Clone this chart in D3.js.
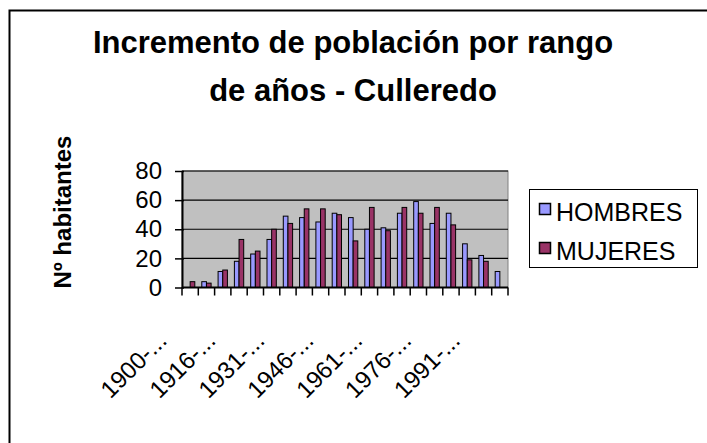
<!DOCTYPE html>
<html>
<head>
<meta charset="utf-8">
<script src="https://cdn.jsdelivr.net/npm/d3@7"></script>
<style>
  body { margin: 0; background: #fff; }
  svg text { font-family: "Liberation Sans", Arial, sans-serif; fill: #000; }
</style>
</head>
<body>
<svg width="707" height="443"></svg>
<script>
// Data
var categories = ["1900-1905", "1906-1910", "1911-1915", "1916-1920", "1921-1925",
    "1926-1930", "1931-1935", "1936-1940", "1941-1945", "1946-1950",
    "1951-1955", "1956-1960", "1961-1965", "1966-1970", "1971-1975",
    "1976-1980", "1981-1985", "1986-1990", "1991-1995", "1996-2000"];
var seriesNames = ["HOMBRES", "MUJERES"];
var hombres = [0, 4, 11, 18, 23, 33, 49, 48, 45, 51, 48, 40, 41, 51, 59, 44, 51, 30, 22, 11];
var mujeres = [4, 3, 12, 33, 25, 40, 44, 54, 54, 50, 32, 55, 39, 55, 51, 55, 43, 19, 18, 0];
var yTicks = [0, 20, 40, 60, 80];
var colors = ["#9999FF", "#993366"];

var svg = d3.select("svg");

// chart frame (cut off at right / bottom like the original)
svg.append("rect")
    .attr("x", 9.5).attr("y", 10.5)
    .attr("width", 760).attr("height", 500)
    .attr("fill", "#fff")
    .attr("stroke", "#000")
    .attr("stroke-width", 2);

// Title
var title = svg.append("text")
    .attr("text-anchor", "middle")
    .style("font-size", "31px")
    .style("font-weight", "bold");
title.append("tspan").attr("x", 353).attr("y", 53).text("Incremento de población por rango");
title.append("tspan").attr("x", 353).attr("y", 101).text("de años - Culleredo");

// Scales
var plotLeft = 182, plotRight = 508, plotTop = 171, plotBottom = 287.5;
var x = d3.scaleBand().domain(categories).range([plotLeft, plotRight]);
var x1 = d3.scaleBand().domain(seriesNames).range([0, x.bandwidth()])
    .paddingInner(0).paddingOuter(0.75);
var y = d3.scaleLinear().domain([0, 80]).range([plotBottom, plotTop]);

// Plot area
svg.append("rect")
    .attr("x", plotLeft).attr("y", plotTop)
    .attr("width", plotRight - plotLeft).attr("height", plotBottom - plotTop)
    .attr("fill", "#C0C0C0")
    .attr("stroke", "#808080");

// gridlines
svg.append("g")
    .selectAll("line")
    .data(yTicks.slice(1))
    .enter().append("line")
        .attr("x1", plotLeft).attr("x2", plotRight)
        .attr("y1", function(d) { return y(d); })
        .attr("y2", function(d) { return y(d); })
        .attr("stroke", "#000")
        .attr("stroke-width", 1.2);

// Bars
var rows = categories.map(function(c, i) {
    return { cat: c, values: [hombres[i], mujeres[i]] };
});
svg.append("g")
    .selectAll("g")
    .data(rows)
    .enter().append("g")
        .attr("transform", function(d) { return "translate(" + x(d.cat) + ",0)"; })
    .selectAll("rect")
    .data(function(d) {
        return d.values.map(function(v, k) { return { s: seriesNames[k], v: v, k: k }; })
            .filter(function(e) { return e.v > 0; });
    })
    .enter().append("rect")
        .attr("x", function(d) { return x1(d.s); })
        .attr("y", function(d) { return y(d.v); })
        .attr("width", x1.bandwidth())
        .attr("height", function(d) { return y(0) - y(d.v); })
        .attr("fill", function(d) { return colors[d.k]; })
        .attr("stroke", "#000")
        .attr("stroke-width", 1);

// Y axis
var yAxis = svg.append("g")
    .attr("transform", "translate(" + plotLeft + ",0)")
    .call(d3.axisLeft(y).tickValues(yTicks).tickSizeInner(7).tickSizeOuter(0).tickPadding(13));
yAxis.select(".domain").attr("stroke-width", 2);
yAxis.selectAll(".tick line").attr("x2", -7).attr("x1", 2).attr("stroke-width", 1.5);
yAxis.selectAll("text").style("font-size", "24px").style("font-family", "Liberation Sans, Arial, sans-serif");

// X axis: line, boundary ticks, rotated labels every 3rd category
svg.append("line")
    .attr("x1", plotLeft).attr("x2", plotRight)
    .attr("y1", plotBottom).attr("y2", plotBottom)
    .attr("stroke", "#000").attr("stroke-width", 2);
svg.append("g")
    .selectAll("line")
    .data(categories.concat(["end"]))
    .enter().append("line")
        .attr("x1", function(d, i) { return i < categories.length ? x(d) : plotRight; })
        .attr("x2", function(d, i) { return i < categories.length ? x(d) : plotRight; })
        .attr("y1", plotBottom).attr("y2", plotBottom + 8)
        .attr("stroke", "#000").attr("stroke-width", 1.5);

svg.append("g")
    .selectAll("text")
    .data(categories.filter(function(d, i) { return i % 3 === 0; }))
    .enter().append("text")
        .attr("text-anchor", "end")
        .attr("transform", function(d) {
            return "translate(" + (x(d) + x.bandwidth() / 2 - 22) + ",342) rotate(-45)";
        })
        .style("font-size", "24px")
        .text(function(d) { return d.slice(0, 5) + "..."; });

// Y axis title
svg.append("text")
    .attr("text-anchor", "middle")
    .attr("transform", "translate(71,212) rotate(-90)")
    .style("font-size", "24px")
    .style("font-weight", "bold")
    .text("Nº habitantes");

// Legend
var legend = svg.append("g");
legend.append("rect")
    .attr("x", 529.5).attr("y", 189.5)
    .attr("width", 168).attr("height", 78)
    .attr("fill", "#fff").attr("stroke", "#000");
var items = legend.selectAll("g.item")
    .data(seriesNames)
    .enter().append("g")
        .attr("class", "item")
        .attr("transform", function(d, i) { return "translate(0," + (i * 39) + ")"; });
items.append("rect")
    .attr("x", 539.5).attr("y", 203.5)
    .attr("width", 11).attr("height", 11)
    .attr("fill", function(d, i) { return colors[i]; })
    .attr("stroke", "#000").attr("stroke-width", 1.5);
items.append("text")
    .attr("x", 556).attr("y", 221)
    .style("font-size", "25px")
    .text(function(d) { return d; });
</script>
</body>
</html>
